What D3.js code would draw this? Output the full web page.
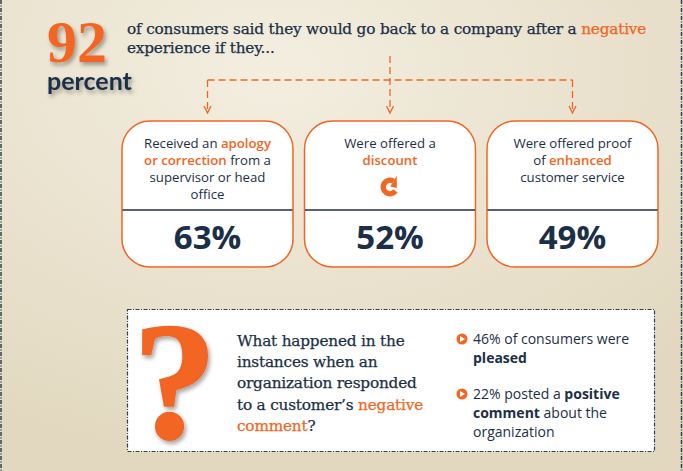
<!DOCTYPE html>
<html>
<head>
<meta charset="utf-8">
<script src="https://cdn.jsdelivr.net/npm/d3@7"></script>
<style>
html, body { margin: 0; padding: 0; overflow: hidden; }
svg { display: block; }
</style>
</head>
<body>
<div id="chart"></div>
<script>
var width = 683;
var height = 471;

var orange = "#f26522";
var navy = "#1b2f46";

// headline
var headValue = 92;
var headUnit = "percent";
var headLines = [
    [["of consumers said they would go back to a company after a ", 0], ["negative", 1]],
    [["experience if they...", 0]]
];

// the three boxes (style 0 = plain, 1 = orange)
var boxKeys = ["apology", "discount", "enhanced"];
var boxValues = [63, 52, 49];
var boxText = [
    [[["Received an ", 0], ["apology", 1]], [["or correction", 1], [" from a", 0]], [["supervisor or head", 0]], [["office", 0]]],
    [[["Were offered a", 0]], [["discount", 1]]],
    [[["Were offered proof", 0]], [["of ", 0], ["enhanced", 1]], [["customer service", 0]]]
];

// question panel (style 2 = bold)
var questionLines = [
    [["What happened in the", 0]],
    [["instances when an", 0]],
    [["organization responded", 0]],
    [["to a customer\u2019s ", 0], ["negative", 1]],
    [["comment", 1], ["?", 0]]
];
var bulletValues = [46, 22];
var bulletText = [
    [[["% of consumers were", 0]], [["pleased", 2]]],
    [[["% posted a ", 0], ["positive", 2]], [["comment", 2], [" about the", 0]], [["organization", 0]]]
];

var svg = d3.select("#chart").append("svg")
    .attr("width", width)
    .attr("height", height);

var defs = svg.append("defs");
var bg = defs.append("radialGradient").attr("id", "bg")
    .attr("cx", "40%").attr("cy", "15%").attr("r", "85%");
bg.append("stop").attr("offset", "0%").attr("stop-color", "#f3eee0");
bg.append("stop").attr("offset", "100%").attr("stop-color", "#e2d8bf");

var shadow = defs.append("filter").attr("id", "shadow")
    .attr("x", "-20%").attr("y", "-20%").attr("width", "150%").attr("height", "150%");
shadow.append("feDropShadow")
    .attr("dx", 2).attr("dy", 3).attr("stdDeviation", 2)
    .attr("flood-color", "#000").attr("flood-opacity", 0.35);

svg.append("rect")
    .attr("width", width).attr("height", height)
    .attr("fill", "url(#bg)");

// side dashed borders
svg.selectAll(".side")
    .data([1, width - 1.5])
    .enter()
    .append("line")
    .attr("x1", function (d) { return d; })
    .attr("x2", function (d) { return d; })
    .attr("y1", 0).attr("y2", height)
    .attr("stroke", "#2c4257")
    .attr("stroke-width", 1.5)
    .attr("stroke-dasharray", "4,1.5,1,1.5");

// write a line made of styled pieces
function richLine(sel, parts, styles) {
    parts.forEach(function (p) {
        var st = styles[p[1]];
        sel.append("tspan")
            .text(p[0])
            .attr("fill", st.fill)
            .attr("font-weight", st.weight);
    });
}

// ---------- headline ----------
svg.append("text")
    .attr("x", 47).attr("y", 62)
    .attr("font-family", "Liberation Serif")
    .attr("font-weight", "bold")
    .attr("font-size", 60)
    .attr("fill", orange)
    .attr("filter", "url(#shadow)")
    .text(headValue);

svg.append("text")
    .attr("x", 47).attr("y", 90)
    .attr("font-family", "Lato")
    .attr("font-weight", "bold")
    .attr("font-size", 25)
    .attr("fill", navy)
    .attr("filter", "url(#shadow)")
    .text(headUnit);

var serifStyles = [
    { fill: navy, weight: "normal" },
    { fill: orange, weight: "normal" },
    { fill: navy, weight: "bold" }
];

headLines.forEach(function (line, i) {
    var t = svg.append("text")
        .attr("x", 127).attr("y", 34 + i * 19)
        .attr("font-family", "DejaVu Serif")
        .attr("font-size", 15.3)
        .attr("letter-spacing", -0.2)
        .attr("stroke", navy)
        .attr("stroke-width", 0.25);
    richLine(t, line, serifStyles);
    t.selectAll("tspan").attr("stroke", function () { return d3.select(this).attr("fill"); });
});

// ---------- boxes ----------
var xBox = d3.scaleBand()
    .domain(boxKeys)
    .range([122, 658])
    .paddingInner(0.063);
var bw = xBox.bandwidth();
var boxTop = 121, boxBottom = 267, boxDivide = 210;

// connectors
var cx = boxKeys.map(function (k) { return xBox(k) + bw / 2; });
var dashed = svg.append("g")
    .attr("stroke", orange)
    .attr("stroke-width", 1.3)
    .attr("fill", "none");
dashed.append("line")
    .attr("x1", cx[0]).attr("x2", cx[2])
    .attr("y1", 80).attr("y2", 80)
    .attr("stroke-dasharray", "7,4");
dashed.selectAll(".drop")
    .data(cx)
    .enter()
    .append("line")
    .attr("x1", function (d) { return d; })
    .attr("x2", function (d) { return d; })
    .attr("y1", function (d, i) { return i === 1 ? 56 : 80; })
    .attr("y2", 112)
    .attr("stroke-dasharray", "7,4");
dashed.selectAll(".head")
    .data(cx)
    .enter()
    .append("path")
    .attr("d", function (d) {
        return "M" + (d - 3.5) + ",106L" + d + ",113L" + (d + 3.5) + ",106";
    });

var sansStyles = [
    { fill: navy, weight: "normal" },
    { fill: orange, weight: 600 },
    { fill: navy, weight: "bold" }
];

var boxes = svg.selectAll(".box")
    .data(boxKeys)
    .enter()
    .append("g")
    .attr("class", "box");

boxes.append("rect")
    .attr("x", function (d) { return xBox(d); })
    .attr("y", boxTop)
    .attr("width", bw)
    .attr("height", boxBottom - boxTop)
    .attr("rx", 28)
    .attr("fill", "#fff")
    .attr("stroke", orange)
    .attr("stroke-width", 1.5);

boxes.append("line")
    .attr("x1", function (d) { return xBox(d) + 0.5; })
    .attr("x2", function (d) { return xBox(d) + bw - 0.5; })
    .attr("y1", boxDivide).attr("y2", boxDivide)
    .attr("stroke", navy)
    .attr("stroke-width", 1.5);

boxes.each(function (d, i) {
    var g = d3.select(this);
    boxText[i].forEach(function (line, j) {
        var t = g.append("text")
            .attr("x", xBox(d) + bw / 2)
            .attr("y", 148 + j * 17)
            .attr("text-anchor", "middle")
            .attr("font-family", "Open Sans")
            .attr("font-size", 13.2);
        richLine(t, line, sansStyles);
    });
});

boxes.append("text")
    .attr("x", function (d) { return xBox(d) + bw / 2; })
    .attr("y", 249)
    .attr("text-anchor", "middle")
    .attr("font-family", "Open Sans")
    .attr("font-weight", "bold")
    .attr("font-size", 33)
    .attr("fill", navy)
    .text(function (d, i) { return boxValues[i] + "%"; });

// circular arrow icon under "discount"
var ix = xBox("discount") + bw / 2, iy = 187;
var ring = d3.arc()
    .innerRadius(4)
    .outerRadius(9.5)
    .startAngle(2.2)
    .endAngle(2 * Math.PI + 0.55);
svg.append("path")
    .attr("transform", "translate(" + ix + "," + iy + ")")
    .attr("d", ring())
    .attr("fill", orange);
var a = 0.55;
function polar(r, t) { return [r * Math.sin(t), -r * Math.cos(t)]; }
var p1 = polar(0.5, a), p2 = polar(13, a), tip = polar(6.8, a + 1.15);
svg.append("path")
    .attr("transform", "translate(" + ix + "," + iy + ")")
    .attr("d", "M" + p1 + "L" + p2 + "L" + tip + "Z")
    .attr("fill", orange);

// ---------- question panel ----------
svg.append("rect")
    .attr("x", 127.5).attr("y", 309.5)
    .attr("width", 527).attr("height", 142)
    .attr("fill", "#fff")
    .attr("stroke", "#2c4257")
    .attr("stroke-width", 1.2)
    .attr("stroke-dasharray", "4,1.5,1,1.5");

svg.append("text")
    .attr("x", 175).attr("y", 438)
    .attr("text-anchor", "middle")
    .attr("font-family", "Liberation Serif")
    .attr("font-weight", "bold")
    .attr("font-size", 168)
    .attr("fill", orange)
    .attr("stroke", orange)
    .attr("stroke-width", 2)
    .attr("filter", "url(#shadow)")
    .text("?");

questionLines.forEach(function (line, i) {
    var t = svg.append("text")
        .attr("x", 237).attr("y", 346 + i * 21.2)
        .attr("font-family", "DejaVu Serif")
        .attr("font-size", 15.3)
        .attr("letter-spacing", -0.2);
    richLine(t, line, serifStyles);
    t.selectAll("tspan")
        .attr("stroke", function () { return d3.select(this).attr("fill"); })
        .attr("stroke-width", 0.25);
});

var bulletY = [344, 399];
bulletValues.forEach(function (v, i) {
    var by = bulletY[i];
    svg.append("circle")
        .attr("cx", 462).attr("cy", by - 5)
        .attr("r", 5.5)
        .attr("fill", orange);
    svg.append("path")
        .attr("d", "M" + 460 + "," + (by - 8) + "L" + 465 + "," + (by - 5) + "L" + 460 + "," + (by - 2) + "Z")
        .attr("fill", "#fff");
    bulletText[i].forEach(function (line, j) {
        var t = svg.append("text")
            .attr("x", 473).attr("y", by + j * 19)
            .attr("font-family", "Open Sans")
            .attr("font-size", 14);
        var parts = line.slice();
        if (j === 0) parts = [[v + parts[0][0], parts[0][1]]].concat(parts.slice(1));
        richLine(t, parts, sansStyles);
    });
});
</script>
</body>
</html>
